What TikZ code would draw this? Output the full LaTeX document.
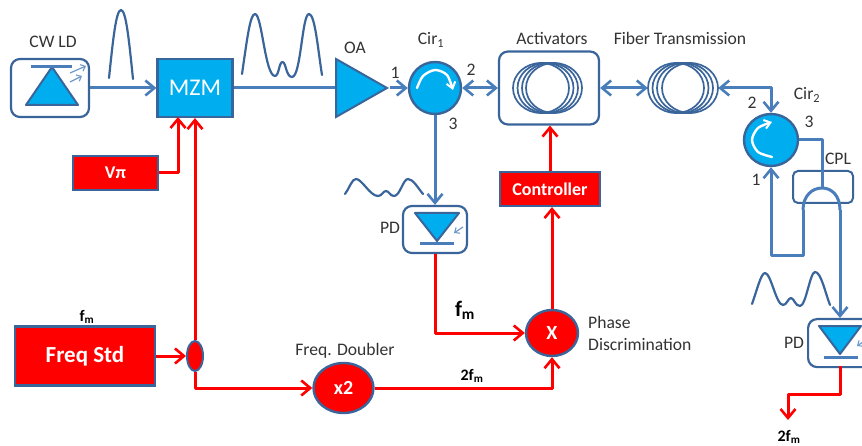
\documentclass[tikz,border=0pt]{standalone}
\usepackage{fontspec}
\setmainfont{Carlito}
\usetikzlibrary{arrows.meta,shapes.geometric}
\definecolor{lineblue}{HTML}{4A7EBB}
\definecolor{edgeblue}{HTML}{3A659B}
\definecolor{fillblue}{HTML}{00AEEF}
\definecolor{redc}{HTML}{FF0000}
\definecolor{txt}{HTML}{333333}
\tikzset{
  bar/.tip={Straight Barb[length=9pt,width=15pt,line width=2.6pt]},
  bluew/.style={draw=lineblue,line width=3pt,line join=round},
  redw/.style={draw=redc,line width=3pt,line join=round},
  roundbox/.style={draw=edgeblue,line width=2.2pt,rounded corners=9pt,fill=white,inner sep=0pt},
  bluebox/.style={draw=edgeblue,line width=2.2pt,fill=fillblue,inner sep=0pt,text=white,font=\fontsize{24}{26}\selectfont},
  redbox/.style={draw=edgeblue,line width=2.2pt,fill=redc,inner sep=0pt,text=white,font=\bfseries\fontsize{18}{20}\selectfont},
  redell/.style={ellipse,draw=edgeblue,line width=2.4pt,fill=redc,inner sep=0pt,text=white,font=\bfseries\fontsize{20}{22}\selectfont},
  cirnode/.style={ellipse,draw=edgeblue,line width=2.4pt,fill=fillblue,inner sep=0pt},
  lab/.style={text=txt,inner sep=0pt,font=\fontsize{17.6}{20}\selectfont},
  boldlab/.style={text=black,inner sep=0pt,font=\bfseries\fontsize{16}{18}\selectfont},
  pulse/.style={draw=edgeblue,line width=2.2pt,line cap=round,line join=round},
  coil/.style={draw=edgeblue,line width=1.7pt},
  diode/.style={fill=fillblue,draw=edgeblue,line width=2pt,line join=round},
  dbar/.style={draw=lineblue,line width=3pt},
  white arc/.style={draw=white,line width=2.4pt,line cap=round,-{Straight Barb[length=6pt,width=9pt,line width=2pt]}},
  ray/.style={draw=lineblue!80,line width=1.2pt,-{Straight Barb[length=4pt,width=7pt,line width=1.1pt]}},
  fit size/.style 2 args={minimum width=#1 pt,minimum height=#2 pt}
}
\begin{document}
\begin{tikzpicture}[x=1pt,y=-1pt]
\useasboundingbox (0,0) rectangle (862,446);
\clip (0,0) rectangle (862,446);

% CW LD
\node[roundbox,fit size={78}{58}] (ld) at (50,88) {};
\path[diode] (52,67) -- (26,105) -- (78,105) -- cycle;
\draw[dbar] (31,66.5) -- (72,66.5);
\draw[ray] (70,73) -- (86,66);
\draw[ray] (70,82) -- (82,76);
\node[lab] (ldl) at (53,42) {CW LD};

% Blue main nodes
\node[bluebox,fit size={75}{58}] (mzm) at (195,88) {MZM};
\node[isosceles triangle,isosceles triangle stretches,shape border rotate=0,draw=edgeblue,line width=2pt,fill=fillblue,minimum width=58pt,minimum height=51pt,inner sep=0pt,anchor=west] (oa) at (335,88) {};
\node[lab] (oal) at (355,48) {OA};
\node[cirnode,fit size={52}{52}] (c1) at (435,88) {};
\draw[white arc] plot[smooth] coordinates {(417,88) (423,76) (435,70) (447,75) (453,90)};
\node[lab] (c1l) at (431,40) {Cir\textsubscript{1}};
\node[lab] (n1) at (395,73) {1};
\node[lab] (n2) at (471,70) {2};
\node[lab] (n3) at (453,124) {3};

% Activators
\node[roundbox,fit size={100}{73}] (act) at (549,88) {};
\foreach \cx in {541,545.5,550,554}{\draw[coil] (\cx,88) ellipse [x radius=28pt,y radius=25pt];}
\node[lab] (actl) at (552,38) {Activators};

% Fiber
\node[ellipse,inner sep=0pt,fit size={70}{50}] (fib) at (683,88) {};
\foreach \cx in {676,680.5,685,690}{\draw[coil] (\cx,88) ellipse [x radius=28pt,y radius=25pt];}
\node[lab] (fibl) at (680,38) {Fiber Transmission};

% Cir2
\node[cirnode,fit size={54}{52}] (c2) at (771,140) {};
\draw[white arc] plot[smooth] coordinates {(772,157) (758,152) (752,140) (758,128) (772,122)};
\node[lab] (c2l) at (807,95) {Cir\textsubscript{2}};
\node[lab] (m2) at (752,103) {2};
\node[lab] (m3) at (809,122) {3};
\node[lab] (m1) at (756,180) {1};

% CPL
\node[draw=edgeblue,line width=2pt,rounded corners=5pt,inner sep=0pt,fit size={60}{32}] (cpl) at (823,187) {};
\node[lab] (cpll) at (838,159) {CPL};
\coordinate (arcL) at (803,210);
\coordinate (arcR) at (840,210);
\coordinate (arcT) at (822,188);
\draw[bluew] (arcL) .. controls (803,196) and (812,188) .. (arcT) .. controls (832,188) and (840,196) .. (arcR);
\coordinate (c2out) at (822,140);
\coordinate (lowL) at (803,256);
\coordinate (lowM) at (771,256);
\draw[bluew] (c2.east) -- (c2out) -- (arcT);
\draw[bluew,-bar] (arcL) -- (lowL) -- (lowM) -- (c2.south);

% PD 2
\node[roundbox,fit size={66}{48},anchor=north west] (pd2) at (807,318) {};
\path[diode] (819,326) -- (861,326) -- (840,354) -- cycle;
\draw[dbar] (824,357) -- (858,357);
\draw[ray] (866,340) -- (857,346);
\node[lab] (pd2l) at (794,343) {PD};
\coordinate (pd2top) at (840,318);
\coordinate (pd2bot) at (840,366);
\draw[bluew,-bar] (arcR) -- (pd2top);
\coordinate (r2a) at (840,394);
\coordinate (r2b) at (788,394);
\coordinate (r2c) at (788,420);
\draw[redw,-bar] (pd2bot) -- (r2a) -- (r2b) -- (r2c);
\node[boldlab] (out2f) at (789,437) {2f\textsubscript{m}};

% PD 1
\node[roundbox,fit size={64}{47}] (pd1) at (435,229.5) {};
\path[diode] (415,213) -- (459,213) -- (437,241) -- cycle;
\draw[dbar] (420,244) -- (454,244);
\draw[ray] (463,227) -- (454,233);
\node[lab] (pd1l) at (390,228) {PD};

% Red nodes
\node[redbox,fit size={85}{34}] (vpi) at (115.5,173) {Vπ};
\node[redbox,fit size={140}{59},font=\bfseries\fontsize{23}{25}\selectfont] (fs) at (85,356) {Freq Std};
\node[ellipse,draw=edgeblue,line width=2pt,fill=redc,inner sep=0pt,fit size={16}{30}] (sp) at (195,356) {};
\node[redell,fit size={60}{50}] (x2) at (343.5,388) {x2};
\node[redell,fit size={52}{46}] (xx) at (552,333) {X};
\node[redbox,fit size={100}{34}] (ctl) at (550,189) {Controller};
\node[boldlab] (fs1) at (87,317) {f\textsubscript{m}};
\node[lab] (fdl) at (345,351) {Freq. Doubler};
\node[lab,align=left,anchor=west,font=\fontsize{17.6}{22}\selectfont] (pdl) at (588,333) {Phase\\Discrimination};
\node[boldlab,font=\bfseries\fontsize{22}{24}\selectfont] (fm2) at (465,310) {f\textsubscript{m}};
\node[boldlab] (f2m) at (472,376) {2f\textsubscript{m}};

% Blue connectors
\draw[bluew,-bar] (ld.east) -- (mzm.west);
\draw[bluew] (mzm.east) -- (oa.west);
\draw[bluew,-bar] (oa.apex) -- (c1.west);
\draw[bluew,bar-bar] (c1.east) -- (act.west);
\draw[bluew,bar-bar] (act.east) -- (fib.west);
\coordinate (fibc) at (771,88);
\draw[bluew,bar-bar] (fib.east) -- (fibc) -- (c2.north);
\draw[bluew,-bar] (c1.south) -- (pd1.north);

% Red connectors
\coordinate (vpia) at (178,173);
\coordinate (mzmA) at (178,117);
\coordinate (spb) at (195,388);
\draw[redw,-bar] (vpi.east) -- (vpia) -- (mzmA);
\draw[redw,-bar] (sp.north) -- (mzm.south);
\draw[redw,-bar] (fs.east) -- (sp.west);
\draw[redw,-bar] (sp.south) -- (spb) -- (x2.west);
\coordinate (q1) at (552,388);
\draw[redw,-bar] (x2.east) -- (q1) -- (xx.south);
\coordinate (q2) at (435,333);
\draw[redw,-bar] (pd1.south) -- (q2) -- (xx.west);
\draw[redw,-bar] (xx.north) -- (ctl.south -| xx.north);
\draw[redw,-bar] (ctl.north) -- (act.south -| ctl.north);

% Pulses
\draw[pulse] (109,78) .. controls (113,40) and (116,10) .. (121,10) .. controls (126,10) and (129,40) .. (133,79);
\draw[pulse] (242,74) .. controls (247,40) and (250,14) .. (255,14) .. controls (262,14) and (265,76) .. (275,76) .. controls (279,76) and (279,62) .. (282.5,62) .. controls (286,62) and (286,77) .. (292,77) .. controls (301,77) and (302,14) .. (309,14) .. controls (315,14) and (318,50) .. (322,75);
\draw[pulse] (345,194) .. controls (350,187) and (352,179) .. (356,179) .. controls (362,179) and (370,196) .. (378,196) .. controls (382,196) and (383,191) .. (386,191) .. controls (389,191) and (390,196) .. (394,196) .. controls (400,196) and (403,179) .. (408,179) .. controls (413,179) and (418,188) .. (423,194);
\draw[pulse] (752,304) .. controls (757,290) and (761,273) .. (765,273) .. controls (771,273) and (776,305) .. (783,305) .. controls (787,305) and (788,298) .. (791,298) .. controls (794,298) and (795,306) .. (800,306) .. controls (806,306) and (810,272) .. (815,272) .. controls (821,272) and (825,292) .. (830,305);
\end{tikzpicture}
\end{document}
